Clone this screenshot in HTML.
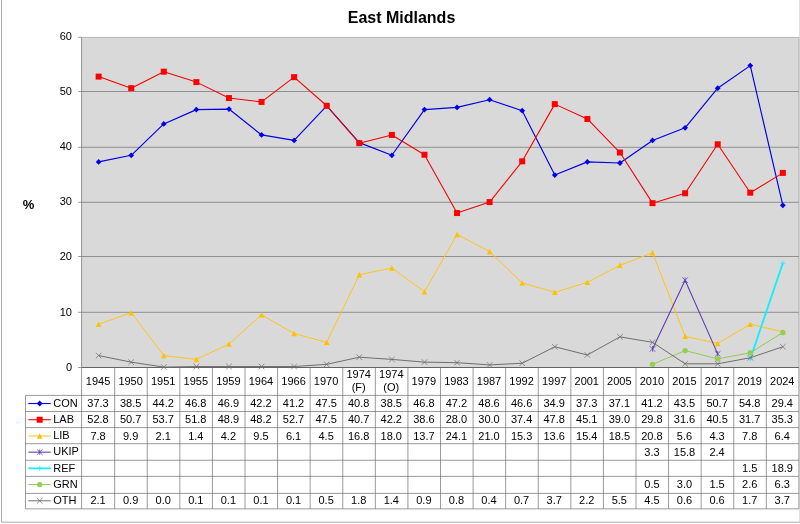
<!DOCTYPE html>
<html><head><meta charset="utf-8"><title>East Midlands</title>
<style>html,body{margin:0;padding:0;background:#fff}svg{display:block}</style></head>
<body>
<svg width="800" height="524" viewBox="0 0 800 524" font-family="Liberation Sans, Arial, sans-serif">
<rect width="800" height="524" fill="#fff"/>
<path d="M1.5 -2V522.2H802" fill="none" stroke="#a4a4a4" stroke-width="0.9"/>
<rect x="81.6" y="37.4" width="717.3" height="330.1" fill="#d9d9d9"/>
<path d="M81.6 37.4H798.9V367.5" fill="none" stroke="#a0a0a0" stroke-width="0.7"/>
<line x1="81.6" x2="798.9" y1="312.30" y2="312.30" stroke="#707070" stroke-width="0.7"/>
<line x1="81.6" x2="798.9" y1="256.50" y2="256.50" stroke="#707070" stroke-width="0.7"/>
<line x1="81.6" x2="798.9" y1="202.30" y2="202.30" stroke="#707070" stroke-width="0.7"/>
<line x1="81.6" x2="798.9" y1="147.30" y2="147.30" stroke="#707070" stroke-width="0.7"/>
<line x1="81.6" x2="798.9" y1="91.50" y2="91.50" stroke="#707070" stroke-width="0.7"/>
<line x1="78.1" x2="81.6" y1="367.50" y2="367.50" stroke="#707070" stroke-width="0.7"/>
<text x="72" y="370.55" font-size="11" text-anchor="end" fill="#000">0</text>
<line x1="78.1" x2="81.6" y1="312.30" y2="312.30" stroke="#707070" stroke-width="0.7"/>
<text x="72" y="315.50" font-size="11" text-anchor="end" fill="#000">10</text>
<line x1="78.1" x2="81.6" y1="256.50" y2="256.50" stroke="#707070" stroke-width="0.7"/>
<text x="72" y="260.45" font-size="11" text-anchor="end" fill="#000">20</text>
<line x1="78.1" x2="81.6" y1="202.30" y2="202.30" stroke="#707070" stroke-width="0.7"/>
<text x="72" y="205.40" font-size="11" text-anchor="end" fill="#000">30</text>
<line x1="78.1" x2="81.6" y1="147.30" y2="147.30" stroke="#707070" stroke-width="0.7"/>
<text x="72" y="150.35" font-size="11" text-anchor="end" fill="#000">40</text>
<line x1="78.1" x2="81.6" y1="91.50" y2="91.50" stroke="#707070" stroke-width="0.7"/>
<text x="72" y="95.30" font-size="11" text-anchor="end" fill="#000">50</text>
<line x1="78.1" x2="81.6" y1="37.30" y2="37.30" stroke="#707070" stroke-width="0.7"/>
<text x="72" y="40.25" font-size="11" text-anchor="end" fill="#000">60</text>
<line x1="81.6" x2="81.6" y1="37.4" y2="367.5" stroke="#707070" stroke-width="0.7"/>
<line x1="81.6" x2="798.9" y1="367.5" y2="367.5" stroke="#555" stroke-width="0.9"/>
<text x="401.5" y="22.5" font-size="16" font-weight="bold" text-anchor="middle">East Midlands</text>
<text x="28.5" y="208.5" font-size="13" font-weight="bold" text-anchor="middle">%</text>
<path d="M81.60 367.50V508.85M114.68 367.50V508.85M147.26 367.50V508.85M179.85 367.50V508.85M212.43 367.50V508.85M245.01 367.50V508.85M277.59 367.50V508.85M310.17 367.50V508.85M342.75 367.50V508.85M375.34 367.50V508.85M407.92 367.50V508.85M440.50 367.50V508.85M473.08 367.50V508.85M505.66 367.50V508.85M538.25 367.50V508.85M570.83 367.50V508.85M603.41 367.50V508.85M635.99 367.50V508.85M668.57 367.50V508.85M701.15 367.50V508.85M733.74 367.50V508.85M766.32 367.50V508.85M798.90 367.50V508.85M25.5 395.4V508.85M25.5 395.40H798.9M25.5 411.50H798.9M25.5 427.60H798.9M25.5 443.70H798.9M25.5 460.25H798.9M25.5 476.40H798.9M25.5 493.40H798.9M25.5 508.85H798.9" stroke="#707070" stroke-width="0.7" fill="none"/>
<text x="98.04" y="384.6" font-size="11" text-anchor="middle">1945</text>
<text x="130.62" y="384.6" font-size="11" text-anchor="middle">1950</text>
<text x="163.20" y="384.6" font-size="11" text-anchor="middle">1951</text>
<text x="195.79" y="384.6" font-size="11" text-anchor="middle">1955</text>
<text x="228.37" y="384.6" font-size="11" text-anchor="middle">1959</text>
<text x="260.95" y="384.6" font-size="11" text-anchor="middle">1964</text>
<text x="293.53" y="384.6" font-size="11" text-anchor="middle">1966</text>
<text x="326.11" y="384.6" font-size="11" text-anchor="middle">1970</text>
<text x="358.70" y="378" font-size="11" text-anchor="middle">1974</text>
<text x="358.70" y="391" font-size="11" text-anchor="middle">(F)</text>
<text x="391.28" y="378" font-size="11" text-anchor="middle">1974</text>
<text x="391.28" y="391" font-size="11" text-anchor="middle">(O)</text>
<text x="423.86" y="384.6" font-size="11" text-anchor="middle">1979</text>
<text x="456.44" y="384.6" font-size="11" text-anchor="middle">1983</text>
<text x="489.02" y="384.6" font-size="11" text-anchor="middle">1987</text>
<text x="521.60" y="384.6" font-size="11" text-anchor="middle">1992</text>
<text x="554.19" y="384.6" font-size="11" text-anchor="middle">1997</text>
<text x="586.77" y="384.6" font-size="11" text-anchor="middle">2001</text>
<text x="619.35" y="384.6" font-size="11" text-anchor="middle">2005</text>
<text x="651.93" y="384.6" font-size="11" text-anchor="middle">2010</text>
<text x="684.51" y="384.6" font-size="11" text-anchor="middle">2015</text>
<text x="717.10" y="384.6" font-size="11" text-anchor="middle">2017</text>
<text x="749.68" y="384.6" font-size="11" text-anchor="middle">2019</text>
<text x="782.26" y="384.6" font-size="11" text-anchor="middle">2024</text>
<line x1="28.3" x2="50.8" y1="403.51" y2="403.51" stroke="#0000e4" stroke-width="1.15"/>
<path d="M39.70 400.61L42.60 403.51L39.70 406.41L36.80 403.51Z" fill="#0000ee"/>
<text x="53.2" y="406.71" font-size="11">CON</text>
<text x="98.04" y="407.21" font-size="11" text-anchor="middle">37.3</text>
<text x="130.62" y="407.21" font-size="11" text-anchor="middle">38.5</text>
<text x="163.20" y="407.21" font-size="11" text-anchor="middle">44.2</text>
<text x="195.79" y="407.21" font-size="11" text-anchor="middle">46.8</text>
<text x="228.37" y="407.21" font-size="11" text-anchor="middle">46.9</text>
<text x="260.95" y="407.21" font-size="11" text-anchor="middle">42.2</text>
<text x="293.53" y="407.21" font-size="11" text-anchor="middle">41.2</text>
<text x="326.11" y="407.21" font-size="11" text-anchor="middle">47.5</text>
<text x="358.70" y="407.21" font-size="11" text-anchor="middle">40.8</text>
<text x="391.28" y="407.21" font-size="11" text-anchor="middle">38.5</text>
<text x="423.86" y="407.21" font-size="11" text-anchor="middle">46.8</text>
<text x="456.44" y="407.21" font-size="11" text-anchor="middle">47.2</text>
<text x="489.02" y="407.21" font-size="11" text-anchor="middle">48.6</text>
<text x="521.60" y="407.21" font-size="11" text-anchor="middle">46.6</text>
<text x="554.19" y="407.21" font-size="11" text-anchor="middle">34.9</text>
<text x="586.77" y="407.21" font-size="11" text-anchor="middle">37.3</text>
<text x="619.35" y="407.21" font-size="11" text-anchor="middle">37.1</text>
<text x="651.93" y="407.21" font-size="11" text-anchor="middle">41.2</text>
<text x="684.51" y="407.21" font-size="11" text-anchor="middle">43.5</text>
<text x="717.10" y="407.21" font-size="11" text-anchor="middle">50.7</text>
<text x="749.68" y="407.21" font-size="11" text-anchor="middle">54.8</text>
<text x="782.26" y="407.21" font-size="11" text-anchor="middle">29.4</text>
<line x1="28.3" x2="50.8" y1="419.72" y2="419.72" stroke="#f40000" stroke-width="1.08"/>
<rect x="36.70" y="416.72" width="6.00" height="6.00" fill="#ff0000"/>
<text x="53.2" y="422.92" font-size="11">LAB</text>
<text x="98.04" y="423.42" font-size="11" text-anchor="middle">52.8</text>
<text x="130.62" y="423.42" font-size="11" text-anchor="middle">50.7</text>
<text x="163.20" y="423.42" font-size="11" text-anchor="middle">53.7</text>
<text x="195.79" y="423.42" font-size="11" text-anchor="middle">51.8</text>
<text x="228.37" y="423.42" font-size="11" text-anchor="middle">48.9</text>
<text x="260.95" y="423.42" font-size="11" text-anchor="middle">48.2</text>
<text x="293.53" y="423.42" font-size="11" text-anchor="middle">52.7</text>
<text x="326.11" y="423.42" font-size="11" text-anchor="middle">47.5</text>
<text x="358.70" y="423.42" font-size="11" text-anchor="middle">40.7</text>
<text x="391.28" y="423.42" font-size="11" text-anchor="middle">42.2</text>
<text x="423.86" y="423.42" font-size="11" text-anchor="middle">38.6</text>
<text x="456.44" y="423.42" font-size="11" text-anchor="middle">28.0</text>
<text x="489.02" y="423.42" font-size="11" text-anchor="middle">30.0</text>
<text x="521.60" y="423.42" font-size="11" text-anchor="middle">37.4</text>
<text x="554.19" y="423.42" font-size="11" text-anchor="middle">47.8</text>
<text x="586.77" y="423.42" font-size="11" text-anchor="middle">45.1</text>
<text x="619.35" y="423.42" font-size="11" text-anchor="middle">39.0</text>
<text x="651.93" y="423.42" font-size="11" text-anchor="middle">29.8</text>
<text x="684.51" y="423.42" font-size="11" text-anchor="middle">31.6</text>
<text x="717.10" y="423.42" font-size="11" text-anchor="middle">40.5</text>
<text x="749.68" y="423.42" font-size="11" text-anchor="middle">31.7</text>
<text x="782.26" y="423.42" font-size="11" text-anchor="middle">35.3</text>
<line x1="28.3" x2="50.8" y1="435.94" y2="435.94" stroke="#ffc414" stroke-width="0.98"/>
<path d="M39.70 433.19L42.45 438.69L36.95 438.69Z" fill="#ffc000"/>
<text x="53.2" y="439.14" font-size="11">LIB</text>
<text x="98.04" y="439.64" font-size="11" text-anchor="middle">7.8</text>
<text x="130.62" y="439.64" font-size="11" text-anchor="middle">9.9</text>
<text x="163.20" y="439.64" font-size="11" text-anchor="middle">2.1</text>
<text x="195.79" y="439.64" font-size="11" text-anchor="middle">1.4</text>
<text x="228.37" y="439.64" font-size="11" text-anchor="middle">4.2</text>
<text x="260.95" y="439.64" font-size="11" text-anchor="middle">9.5</text>
<text x="293.53" y="439.64" font-size="11" text-anchor="middle">6.1</text>
<text x="326.11" y="439.64" font-size="11" text-anchor="middle">4.5</text>
<text x="358.70" y="439.64" font-size="11" text-anchor="middle">16.8</text>
<text x="391.28" y="439.64" font-size="11" text-anchor="middle">18.0</text>
<text x="423.86" y="439.64" font-size="11" text-anchor="middle">13.7</text>
<text x="456.44" y="439.64" font-size="11" text-anchor="middle">24.1</text>
<text x="489.02" y="439.64" font-size="11" text-anchor="middle">21.0</text>
<text x="521.60" y="439.64" font-size="11" text-anchor="middle">15.3</text>
<text x="554.19" y="439.64" font-size="11" text-anchor="middle">13.6</text>
<text x="586.77" y="439.64" font-size="11" text-anchor="middle">15.4</text>
<text x="619.35" y="439.64" font-size="11" text-anchor="middle">18.5</text>
<text x="651.93" y="439.64" font-size="11" text-anchor="middle">20.8</text>
<text x="684.51" y="439.64" font-size="11" text-anchor="middle">5.6</text>
<text x="717.10" y="439.64" font-size="11" text-anchor="middle">4.3</text>
<text x="749.68" y="439.64" font-size="11" text-anchor="middle">7.8</text>
<text x="782.26" y="439.64" font-size="11" text-anchor="middle">6.4</text>
<line x1="28.3" x2="50.8" y1="452.15" y2="452.15" stroke="#5a3aae" stroke-width="1.05"/>
<path d="M36.90 449.35L42.50 454.95M36.90 454.95L42.50 449.35M39.70 449.35L39.70 454.95" stroke="#5a3aae" stroke-width="0.75" fill="none"/>
<text x="53.2" y="455.35" font-size="11">UKIP</text>
<text x="651.93" y="455.85" font-size="11" text-anchor="middle">3.3</text>
<text x="684.51" y="455.85" font-size="11" text-anchor="middle">15.8</text>
<text x="717.10" y="455.85" font-size="11" text-anchor="middle">2.4</text>
<line x1="28.3" x2="50.8" y1="468.36" y2="468.36" stroke="#10f0ff" stroke-width="1.8"/>
<path d="M37.20 468.36L42.20 468.36M39.70 465.86L39.70 470.86" stroke="#10f0ff" stroke-width="0.75" fill="none"/>
<text x="53.2" y="471.56" font-size="11">REF</text>
<text x="749.68" y="472.06" font-size="11" text-anchor="middle">1.5</text>
<text x="782.26" y="472.06" font-size="11" text-anchor="middle">18.9</text>
<line x1="28.3" x2="50.8" y1="484.58" y2="484.58" stroke="#93c855" stroke-width="0.98"/>
<circle cx="39.70" cy="484.58" r="2.70" fill="#92d050"/>
<text x="53.2" y="487.78" font-size="11">GRN</text>
<text x="651.93" y="488.28" font-size="11" text-anchor="middle">0.5</text>
<text x="684.51" y="488.28" font-size="11" text-anchor="middle">3.0</text>
<text x="717.10" y="488.28" font-size="11" text-anchor="middle">1.5</text>
<text x="749.68" y="488.28" font-size="11" text-anchor="middle">2.6</text>
<text x="782.26" y="488.28" font-size="11" text-anchor="middle">6.3</text>
<line x1="28.3" x2="50.8" y1="500.79" y2="500.79" stroke="#686868" stroke-width="0.95"/>
<path d="M36.90 497.99L42.50 503.59M36.90 503.59L42.50 497.99" stroke="#707070" stroke-width="0.75" fill="none"/>
<text x="53.2" y="503.99" font-size="11">OTH</text>
<text x="98.04" y="504.49" font-size="11" text-anchor="middle">2.1</text>
<text x="130.62" y="504.49" font-size="11" text-anchor="middle">0.9</text>
<text x="163.20" y="504.49" font-size="11" text-anchor="middle">0.0</text>
<text x="195.79" y="504.49" font-size="11" text-anchor="middle">0.1</text>
<text x="228.37" y="504.49" font-size="11" text-anchor="middle">0.1</text>
<text x="260.95" y="504.49" font-size="11" text-anchor="middle">0.1</text>
<text x="293.53" y="504.49" font-size="11" text-anchor="middle">0.1</text>
<text x="326.11" y="504.49" font-size="11" text-anchor="middle">0.5</text>
<text x="358.70" y="504.49" font-size="11" text-anchor="middle">1.8</text>
<text x="391.28" y="504.49" font-size="11" text-anchor="middle">1.4</text>
<text x="423.86" y="504.49" font-size="11" text-anchor="middle">0.9</text>
<text x="456.44" y="504.49" font-size="11" text-anchor="middle">0.8</text>
<text x="489.02" y="504.49" font-size="11" text-anchor="middle">0.4</text>
<text x="521.60" y="504.49" font-size="11" text-anchor="middle">0.7</text>
<text x="554.19" y="504.49" font-size="11" text-anchor="middle">3.7</text>
<text x="586.77" y="504.49" font-size="11" text-anchor="middle">2.2</text>
<text x="619.35" y="504.49" font-size="11" text-anchor="middle">5.5</text>
<text x="651.93" y="504.49" font-size="11" text-anchor="middle">4.5</text>
<text x="684.51" y="504.49" font-size="11" text-anchor="middle">0.6</text>
<text x="717.10" y="504.49" font-size="11" text-anchor="middle">0.6</text>
<text x="749.68" y="504.49" font-size="11" text-anchor="middle">1.7</text>
<text x="782.26" y="504.49" font-size="11" text-anchor="middle">3.7</text>
<path d="M98.64 161.89L131.22 155.29L163.80 123.93L196.39 109.62L228.97 109.07L261.55 134.93L294.13 140.43L326.71 105.77L359.30 142.63L391.88 155.29L424.46 109.62L457.04 107.42L489.62 99.72L522.20 110.72L554.79 175.09L587.37 161.89L619.95 162.99L652.53 140.43L685.11 127.78L717.70 88.17L750.28 65.61L782.86 205.35" stroke="#0000e4" stroke-width="1.15" fill="none" stroke-linejoin="round"/>
<path d="M98.64 158.99L101.54 161.89L98.64 164.79L95.74 161.89Z" fill="#0000ee"/>
<path d="M131.22 152.39L134.12 155.29L131.22 158.19L128.32 155.29Z" fill="#0000ee"/>
<path d="M163.80 121.03L166.70 123.93L163.80 126.83L160.90 123.93Z" fill="#0000ee"/>
<path d="M196.39 106.72L199.29 109.62L196.39 112.52L193.49 109.62Z" fill="#0000ee"/>
<path d="M228.97 106.17L231.87 109.07L228.97 111.97L226.07 109.07Z" fill="#0000ee"/>
<path d="M261.55 132.03L264.45 134.93L261.55 137.83L258.65 134.93Z" fill="#0000ee"/>
<path d="M294.13 137.53L297.03 140.43L294.13 143.33L291.23 140.43Z" fill="#0000ee"/>
<path d="M326.71 102.87L329.61 105.77L326.71 108.67L323.81 105.77Z" fill="#0000ee"/>
<path d="M359.30 139.73L362.20 142.63L359.30 145.53L356.40 142.63Z" fill="#0000ee"/>
<path d="M391.88 152.39L394.78 155.29L391.88 158.19L388.98 155.29Z" fill="#0000ee"/>
<path d="M424.46 106.72L427.36 109.62L424.46 112.52L421.56 109.62Z" fill="#0000ee"/>
<path d="M457.04 104.52L459.94 107.42L457.04 110.32L454.14 107.42Z" fill="#0000ee"/>
<path d="M489.62 96.82L492.52 99.72L489.62 102.62L486.72 99.72Z" fill="#0000ee"/>
<path d="M522.20 107.82L525.10 110.72L522.20 113.62L519.30 110.72Z" fill="#0000ee"/>
<path d="M554.79 172.19L557.69 175.09L554.79 177.99L551.89 175.09Z" fill="#0000ee"/>
<path d="M587.37 158.99L590.27 161.89L587.37 164.79L584.47 161.89Z" fill="#0000ee"/>
<path d="M619.95 160.09L622.85 162.99L619.95 165.89L617.05 162.99Z" fill="#0000ee"/>
<path d="M652.53 137.53L655.43 140.43L652.53 143.33L649.63 140.43Z" fill="#0000ee"/>
<path d="M685.11 124.88L688.01 127.78L685.11 130.68L682.21 127.78Z" fill="#0000ee"/>
<path d="M717.70 85.27L720.60 88.17L717.70 91.07L714.80 88.17Z" fill="#0000ee"/>
<path d="M750.28 62.71L753.18 65.61L750.28 68.51L747.38 65.61Z" fill="#0000ee"/>
<path d="M782.86 202.45L785.76 205.35L782.86 208.25L779.96 205.35Z" fill="#0000ee"/>
<path d="M98.64 76.61L131.22 88.17L163.80 71.66L196.39 82.11L228.97 98.07L261.55 101.92L294.13 77.16L326.71 105.77L359.30 143.18L391.88 134.93L424.46 154.74L457.04 213.05L489.62 202.05L522.20 161.34L554.79 104.12L587.37 118.97L619.95 152.53L652.53 203.15L685.11 193.25L717.70 144.28L750.28 192.70L782.86 172.89" stroke="#f40000" stroke-width="1.08" fill="none" stroke-linejoin="round"/>
<rect x="95.64" y="73.61" width="6.00" height="6.00" fill="#ff0000"/>
<rect x="128.22" y="85.17" width="6.00" height="6.00" fill="#ff0000"/>
<rect x="160.80" y="68.66" width="6.00" height="6.00" fill="#ff0000"/>
<rect x="193.39" y="79.11" width="6.00" height="6.00" fill="#ff0000"/>
<rect x="225.97" y="95.07" width="6.00" height="6.00" fill="#ff0000"/>
<rect x="258.55" y="98.92" width="6.00" height="6.00" fill="#ff0000"/>
<rect x="291.13" y="74.16" width="6.00" height="6.00" fill="#ff0000"/>
<rect x="323.71" y="102.77" width="6.00" height="6.00" fill="#ff0000"/>
<rect x="356.30" y="140.18" width="6.00" height="6.00" fill="#ff0000"/>
<rect x="388.88" y="131.93" width="6.00" height="6.00" fill="#ff0000"/>
<rect x="421.46" y="151.74" width="6.00" height="6.00" fill="#ff0000"/>
<rect x="454.04" y="210.05" width="6.00" height="6.00" fill="#ff0000"/>
<rect x="486.62" y="199.05" width="6.00" height="6.00" fill="#ff0000"/>
<rect x="519.20" y="158.34" width="6.00" height="6.00" fill="#ff0000"/>
<rect x="551.79" y="101.12" width="6.00" height="6.00" fill="#ff0000"/>
<rect x="584.37" y="115.97" width="6.00" height="6.00" fill="#ff0000"/>
<rect x="616.95" y="149.53" width="6.00" height="6.00" fill="#ff0000"/>
<rect x="649.53" y="200.15" width="6.00" height="6.00" fill="#ff0000"/>
<rect x="682.11" y="190.25" width="6.00" height="6.00" fill="#ff0000"/>
<rect x="714.70" y="141.28" width="6.00" height="6.00" fill="#ff0000"/>
<rect x="747.28" y="189.70" width="6.00" height="6.00" fill="#ff0000"/>
<rect x="779.86" y="169.89" width="6.00" height="6.00" fill="#ff0000"/>
<path d="M98.64 324.19L131.22 312.63L163.80 355.55L196.39 359.40L228.97 343.99L261.55 314.83L294.13 333.54L326.71 342.34L359.30 274.67L391.88 268.07L424.46 291.73L457.04 234.51L489.62 251.56L522.20 282.92L554.79 292.28L587.37 282.37L619.95 265.32L652.53 252.67L685.11 336.29L717.70 343.44L750.28 324.19L782.86 331.89" stroke="#ffc414" stroke-width="0.98" fill="none" stroke-linejoin="round"/>
<path d="M98.64 321.44L101.39 326.94L95.89 326.94Z" fill="#ffc000"/>
<path d="M131.22 309.88L133.97 315.38L128.47 315.38Z" fill="#ffc000"/>
<path d="M163.80 352.80L166.55 358.30L161.05 358.30Z" fill="#ffc000"/>
<path d="M196.39 356.65L199.14 362.15L193.64 362.15Z" fill="#ffc000"/>
<path d="M228.97 341.24L231.72 346.74L226.22 346.74Z" fill="#ffc000"/>
<path d="M261.55 312.08L264.30 317.58L258.80 317.58Z" fill="#ffc000"/>
<path d="M294.13 330.79L296.88 336.29L291.38 336.29Z" fill="#ffc000"/>
<path d="M326.71 339.59L329.46 345.09L323.96 345.09Z" fill="#ffc000"/>
<path d="M359.30 271.92L362.05 277.42L356.55 277.42Z" fill="#ffc000"/>
<path d="M391.88 265.32L394.63 270.82L389.13 270.82Z" fill="#ffc000"/>
<path d="M424.46 288.98L427.21 294.48L421.71 294.48Z" fill="#ffc000"/>
<path d="M457.04 231.76L459.79 237.26L454.29 237.26Z" fill="#ffc000"/>
<path d="M489.62 248.81L492.37 254.31L486.87 254.31Z" fill="#ffc000"/>
<path d="M522.20 280.17L524.95 285.67L519.45 285.67Z" fill="#ffc000"/>
<path d="M554.79 289.53L557.54 295.03L552.04 295.03Z" fill="#ffc000"/>
<path d="M587.37 279.62L590.12 285.12L584.62 285.12Z" fill="#ffc000"/>
<path d="M619.95 262.57L622.70 268.07L617.20 268.07Z" fill="#ffc000"/>
<path d="M652.53 249.92L655.28 255.42L649.78 255.42Z" fill="#ffc000"/>
<path d="M685.11 333.54L687.86 339.04L682.36 339.04Z" fill="#ffc000"/>
<path d="M717.70 340.69L720.45 346.19L714.95 346.19Z" fill="#ffc000"/>
<path d="M750.28 321.44L753.03 326.94L747.53 326.94Z" fill="#ffc000"/>
<path d="M782.86 329.14L785.61 334.64L780.11 334.64Z" fill="#ffc000"/>
<path d="M652.53 348.94L685.11 280.17L717.70 353.90" stroke="#5a3aae" stroke-width="1.05" fill="none" stroke-linejoin="round"/>
<path d="M649.73 346.14L655.33 351.74M649.73 351.74L655.33 346.14M652.53 346.14L652.53 351.74" stroke="#5a3aae" stroke-width="0.75" fill="none"/>
<path d="M682.31 277.37L687.91 282.97M682.31 282.97L687.91 277.37M685.11 277.37L685.11 282.97" stroke="#5a3aae" stroke-width="0.75" fill="none"/>
<path d="M714.90 351.10L720.50 356.70M714.90 356.70L720.50 351.10M717.70 351.10L717.70 356.70" stroke="#5a3aae" stroke-width="0.75" fill="none"/>
<path d="M750.28 358.85L782.86 263.12" stroke="#10f0ff" stroke-width="1.8" fill="none" stroke-linejoin="round"/>
<path d="M747.78 358.85L752.78 358.85M750.28 356.35L750.28 361.35" stroke="#10f0ff" stroke-width="0.75" fill="none"/>
<path d="M780.36 263.12L785.36 263.12M782.86 260.62L782.86 265.62" stroke="#10f0ff" stroke-width="0.75" fill="none"/>
<path d="M652.53 364.35L685.11 350.60L717.70 358.85L750.28 352.80L782.86 332.44" stroke="#93c855" stroke-width="0.98" fill="none" stroke-linejoin="round"/>
<circle cx="652.53" cy="364.35" r="2.70" fill="#92d050"/>
<circle cx="685.11" cy="350.60" r="2.70" fill="#92d050"/>
<circle cx="717.70" cy="358.85" r="2.70" fill="#92d050"/>
<circle cx="750.28" cy="352.80" r="2.70" fill="#92d050"/>
<circle cx="782.86" cy="332.44" r="2.70" fill="#92d050"/>
<path d="M98.64 355.55L131.22 362.15L163.80 367.10L196.39 366.55L228.97 366.55L261.55 366.55L294.13 366.55L326.71 364.35L359.30 357.20L391.88 359.40L424.46 362.15L457.04 362.70L489.62 364.90L522.20 363.25L554.79 346.74L587.37 355.00L619.95 336.84L652.53 342.34L685.11 363.80L717.70 363.80L750.28 357.75L782.86 346.74" stroke="#686868" stroke-width="0.95" fill="none" stroke-linejoin="round"/>
<path d="M95.84 352.75L101.44 358.35M95.84 358.35L101.44 352.75" stroke="#707070" stroke-width="0.75" fill="none"/>
<path d="M128.42 359.35L134.02 364.95M128.42 364.95L134.02 359.35" stroke="#707070" stroke-width="0.75" fill="none"/>
<path d="M161.00 364.30L166.60 369.90M161.00 369.90L166.60 364.30" stroke="#707070" stroke-width="0.75" fill="none"/>
<path d="M193.59 363.75L199.19 369.35M193.59 369.35L199.19 363.75" stroke="#707070" stroke-width="0.75" fill="none"/>
<path d="M226.17 363.75L231.77 369.35M226.17 369.35L231.77 363.75" stroke="#707070" stroke-width="0.75" fill="none"/>
<path d="M258.75 363.75L264.35 369.35M258.75 369.35L264.35 363.75" stroke="#707070" stroke-width="0.75" fill="none"/>
<path d="M291.33 363.75L296.93 369.35M291.33 369.35L296.93 363.75" stroke="#707070" stroke-width="0.75" fill="none"/>
<path d="M323.91 361.55L329.51 367.15M323.91 367.15L329.51 361.55" stroke="#707070" stroke-width="0.75" fill="none"/>
<path d="M356.50 354.40L362.10 360.00M356.50 360.00L362.10 354.40" stroke="#707070" stroke-width="0.75" fill="none"/>
<path d="M389.08 356.60L394.68 362.20M389.08 362.20L394.68 356.60" stroke="#707070" stroke-width="0.75" fill="none"/>
<path d="M421.66 359.35L427.26 364.95M421.66 364.95L427.26 359.35" stroke="#707070" stroke-width="0.75" fill="none"/>
<path d="M454.24 359.90L459.84 365.50M454.24 365.50L459.84 359.90" stroke="#707070" stroke-width="0.75" fill="none"/>
<path d="M486.82 362.10L492.42 367.70M486.82 367.70L492.42 362.10" stroke="#707070" stroke-width="0.75" fill="none"/>
<path d="M519.40 360.45L525.00 366.05M519.40 366.05L525.00 360.45" stroke="#707070" stroke-width="0.75" fill="none"/>
<path d="M551.99 343.94L557.59 349.54M551.99 349.54L557.59 343.94" stroke="#707070" stroke-width="0.75" fill="none"/>
<path d="M584.57 352.20L590.17 357.80M584.57 357.80L590.17 352.20" stroke="#707070" stroke-width="0.75" fill="none"/>
<path d="M617.15 334.04L622.75 339.64M617.15 339.64L622.75 334.04" stroke="#707070" stroke-width="0.75" fill="none"/>
<path d="M649.73 339.54L655.33 345.14M649.73 345.14L655.33 339.54" stroke="#707070" stroke-width="0.75" fill="none"/>
<path d="M682.31 361.00L687.91 366.60M682.31 366.60L687.91 361.00" stroke="#707070" stroke-width="0.75" fill="none"/>
<path d="M714.90 361.00L720.50 366.60M714.90 366.60L720.50 361.00" stroke="#707070" stroke-width="0.75" fill="none"/>
<path d="M747.48 354.95L753.08 360.55M747.48 360.55L753.08 354.95" stroke="#707070" stroke-width="0.75" fill="none"/>
<path d="M780.06 343.94L785.66 349.54M780.06 349.54L785.66 343.94" stroke="#707070" stroke-width="0.75" fill="none"/>
<line x1="799.75" x2="799.75" y1="-2" y2="522" stroke="#a8a8a8" stroke-width="0.5"/>
</svg>
</body></html>
